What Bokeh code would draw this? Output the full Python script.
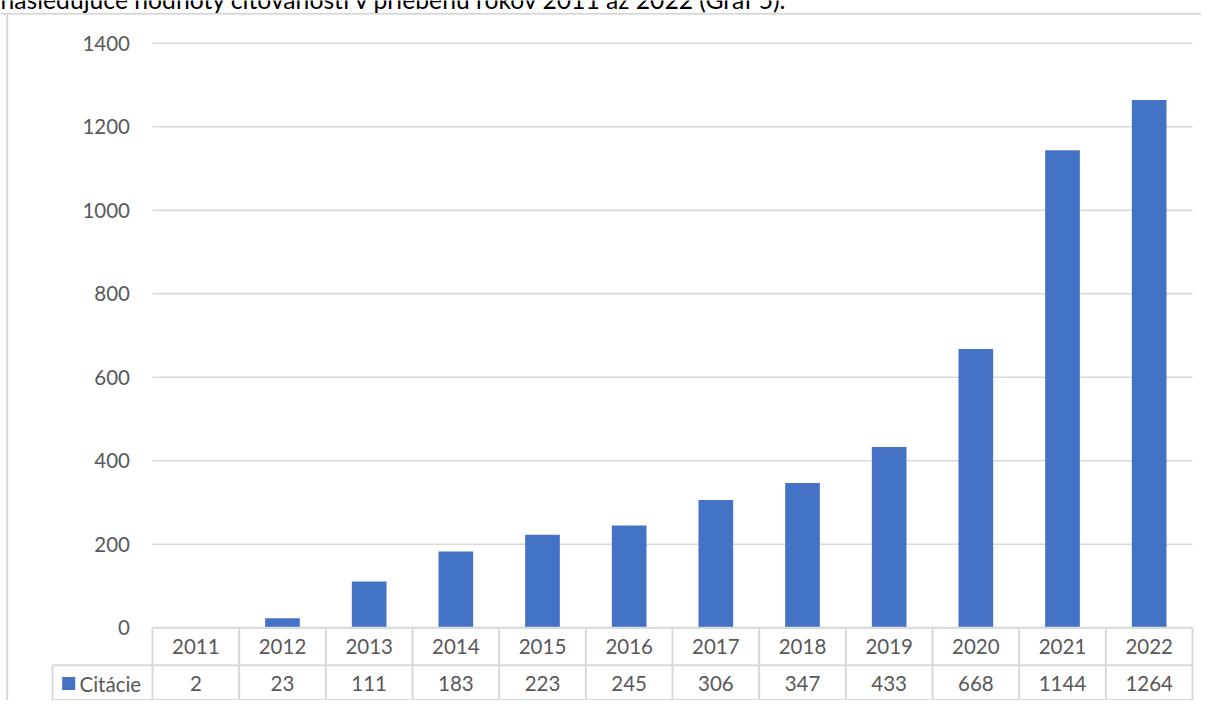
from bokeh.plotting import figure
from bokeh.models import ColumnDataSource, Range1d
from bokeh.core.properties import value
from bokeh.embed import file_html
from bokeh.resources import INLINE

# ---- data ----
years = ["2011", "2012", "2013", "2014", "2015", "2016",
         "2017", "2018", "2019", "2020", "2021", "2022"]
citations = [2, 23, 111, 183, 223, 245, 306, 347, 433, 668, 1144, 1264]
series_name = "Citácie"
y_ticks = [0, 200, 400, 600, 800, 1000, 1200, 1400]
caption = "nasledujúce hodnoty citovanosti v priebehu rokov 2011 až 2022 (Graf 5)."

# ---- layout constants (data units) ----
W, H = 1201, 700
px_per_cat = 86.667
px_per_val = 0.4175
origin_px_x, origin_px_y = 152, 627.3
x0 = -origin_px_x / px_per_cat
x1 = (W - origin_px_x) / px_per_cat
y0 = (origin_px_y - H) / px_per_val
y1 = origin_px_y / px_per_val

def vx(px):
    return (px - origin_px_x) / px_per_cat

def vy(py):
    return (origin_px_y - py) / px_per_val

n = len(years)
FONT = value("Lato")
FS = value("20.5px")
TXT = "#595959"
GRID = "#d9d9d9"
BAR = "#4472C4"

p = figure(width=W, height=H, output_backend="svg", toolbar_location=None,
           x_range=Range1d(x0, x1), y_range=Range1d(y0, y1),
           min_border=0, outline_line_color=None)
p.axis.visible = False
p.grid.visible = False

# frame of the chart area
p.segment(x0=[x0], y0=[vy(13.3)], x1=[x1], y1=[vy(13.3)], line_color=GRID, line_width=2)
p.segment(x0=[vx(6.7)], y0=[vy(13.3)], x1=[vx(6.7)], y1=[y0], line_color=GRID, line_width=2)

# caption (partially cut at the top, as in the source page)
p.text(x=[x0], y=[vy(-1)], text=[caption], text_font=FONT, text_font_size=value("24.7px"),
       text_color="#000000", text_align="left", text_baseline="alphabetic")

# gridlines and y labels
grid_src = ColumnDataSource(dict(y=y_ticks, lab=[str(t) for t in y_ticks]))
p.segment(x0=0, y0="y", x1=n, y1="y", source=grid_src, line_color=GRID, line_width=1.5)
p.text(x=vx(129.5), y="y", text="lab", source=grid_src, text_font=FONT, text_font_size=FS,
       text_color=TXT, text_align="right", text_baseline="middle")

# bars
src = ColumnDataSource(dict(x=[i + 0.5 for i in range(n)], top=citations,
                            year=years, lab=[str(c) for c in citations]))
p.vbar(x="x", top="top", bottom=0, width=0.4, source=src, fill_color=BAR, line_color=None)

# data table
row_mid = vy(664.7)
row_bot = vy(699.5)
leg_left = vx(52)
p.segment(x0=[0, leg_left, leg_left], y0=[0, row_mid, row_bot],
          x1=[n, n, n], y1=[0, row_mid, row_bot], line_color=GRID, line_width=2)
p.segment(x0=list(range(n + 1)), y0=[0] * (n + 1), x1=list(range(n + 1)), y1=[row_bot] * (n + 1),
          line_color=GRID, line_width=2)
p.segment(x0=[leg_left], y0=[row_mid], x1=[leg_left], y1=[row_bot], line_color=GRID, line_width=2)

p.text(x="x", y=vy(645.7), text="year", source=src, text_font=FONT, text_font_size=FS,
       text_color=TXT, text_align="center", text_baseline="middle")
p.text(x="x", y=vy(683), text="lab", source=src, text_font=FONT, text_font_size=FS,
       text_color=TXT, text_align="center", text_baseline="middle")

# legend key inside the table
p.rect(x=[vx(68.2)], y=[vy(683)], width=13, height=13, width_units="screen", height_units="screen",
       fill_color=BAR, line_color=None)
p.text(x=[vx(79)], y=[vy(683)], text=[series_name], text_font=FONT, text_font_size=FS,
       text_color=TXT, text_align="left", text_baseline="middle")

open("out.html", "w").write(file_html(p, INLINE))
